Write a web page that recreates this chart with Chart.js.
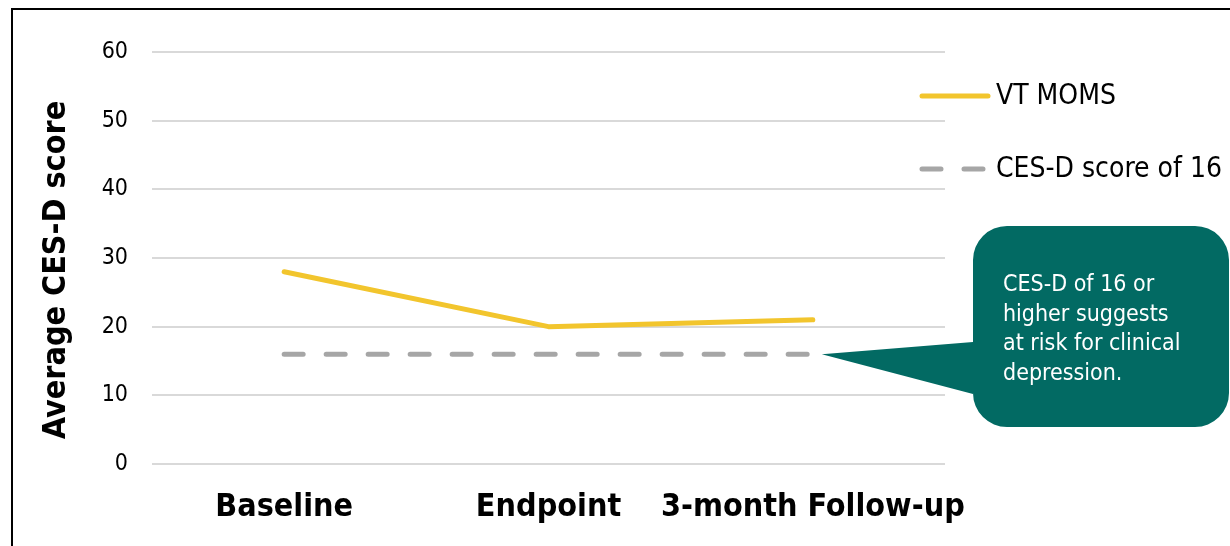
<!DOCTYPE html>
<html>
<head>
<meta charset="utf-8">
<script src="https://cdn.jsdelivr.net/npm/chart.js@4.4.1/dist/chart.umd.min.js"></script>
<style>
  html, body { margin: 0; padding: 0; background: #fff; }
  #wrap { position: relative; width: 1230px; height: 546px; overflow: hidden; }
  #frame { position: absolute; left: 11px; top: 8px; width: 1300px; height: 600px;
           border-top: 2px solid #000; border-left: 2px solid #000; box-sizing: border-box; }
  canvas { position: absolute; left: 0; top: 0; }
</style>
</head>
<body>
<div id="wrap">
  <div id="frame"></div>
  <canvas id="chart" width="1230" height="546"></canvas>
</div>
<script>
// Time points and scores
const timepoints = ['Baseline', 'Endpoint', '3-month Follow-up'];
const vtMomsScores = [28, 20, 21];
const thresholdScores = [16, 16, 16];
const seriesLabels = ['VT MOMS', 'CES-D score of 16'];
const yTicks = [0, 10, 20, 30, 40, 50, 60];
const yTitle = 'Average CES-D score';
const calloutLines = ['CES-D of 16 or', 'higher suggests', 'at risk for clinical', 'depression.'];

const FONT = '"DejaVu Sans Condensed", "DejaVu Sans", sans-serif';
const YELLOW = '#F2C52D';
const GRAY = '#A6A6A6';
const TEAL = '#026A63';

// Draws the rotated y title, the legend on the right and the speech-bubble note
const decorations = {
  id: 'decorations',
  afterDraw(chart) {
    const ctx = chart.ctx;
    const y = chart.scales.y;
    const x = chart.scales.x;

    // y-axis title
    ctx.save();
    ctx.translate(57, 270);
    ctx.rotate(-Math.PI / 2);
    ctx.font = 'bold 32px ' + FONT;
    ctx.fillStyle = '#000';
    ctx.textAlign = 'center';
    ctx.textBaseline = 'middle';
    ctx.fillText(yTitle, 0, 0);
    ctx.restore();

    // legend
    const ds = chart.data.datasets;
    const legendRows = [96, 169];
    ds.forEach((d, i) => {
      const ly = legendRows[i];
      ctx.save();
      ctx.strokeStyle = d.borderColor;
      ctx.lineWidth = d.borderWidth;
      ctx.lineCap = 'round';
      ctx.setLineDash(d.borderDash || []);
      ctx.beginPath();
      ctx.moveTo(922, ly);
      ctx.lineTo(988, ly);
      ctx.stroke();
      ctx.restore();
      ctx.save();
      ctx.font = '28px ' + FONT;
      ctx.fillStyle = '#000';
      ctx.textAlign = 'left';
      ctx.textBaseline = 'middle';
      ctx.fillText(d.label, 996, ly + 1);
      ctx.restore();
    });

    // speech bubble pointing at the end of the threshold line
    const tipX = x.getPixelForValue(2) + 9;
    const tipY = y.getPixelForValue(thresholdScores[2]);
    const bx = 973, by = 226, bw = 256, bh = 201, r = 34;
    ctx.save();
    ctx.fillStyle = TEAL;
    ctx.beginPath();
    ctx.moveTo(bx + r, by);
    ctx.lineTo(bx + bw - r, by);
    ctx.arcTo(bx + bw, by, bx + bw, by + r, r);
    ctx.lineTo(bx + bw, by + bh - r);
    ctx.arcTo(bx + bw, by + bh, bx + bw - r, by + bh, r);
    ctx.lineTo(bx + r, by + bh);
    ctx.arcTo(bx, by + bh, bx, by + bh - r, r);
    ctx.lineTo(bx, 394);
    ctx.lineTo(tipX, tipY);
    ctx.lineTo(bx, 342);
    ctx.lineTo(bx, by + r);
    ctx.arcTo(bx, by, bx + r, by, r);
    ctx.closePath();
    ctx.fill();
    ctx.font = '23px ' + FONT;
    ctx.fillStyle = '#fff';
    ctx.textAlign = 'left';
    ctx.textBaseline = 'middle';
    calloutLines.forEach((t, i) => ctx.fillText(t, 1003, 285 + i * 29.7));
    ctx.restore();
  }
};

new Chart(document.getElementById('chart'), {
  type: 'line',
  data: {
    labels: timepoints,
    datasets: [
      {
        label: seriesLabels[0],
        data: vtMomsScores,
        borderColor: YELLOW,
        backgroundColor: YELLOW,
        borderWidth: 5,
        borderCapStyle: 'round',
        borderJoinStyle: 'round',
        pointRadius: 0,
        tension: 0
      },
      {
        label: seriesLabels[1],
        data: thresholdScores,
        borderColor: GRAY,
        backgroundColor: GRAY,
        borderWidth: 5,
        borderDash: [19, 23],
        borderCapStyle: 'round',
        pointRadius: 0,
        tension: 0
      }
    ]
  },
  options: {
    responsive: false,
    animation: false,
    devicePixelRatio: 1,
    layout: { padding: { left: 0, right: 285, top: 52, bottom: 0 } },
    plugins: {
      legend: { display: false },
      tooltip: { enabled: false },
      title: { display: false }
    },
    scales: {
      x: {
        type: 'category',
        offset: true,
        grid: { display: false, drawTicks: false },
        border: { display: false },
        ticks: {
          color: '#000',
          font: { family: FONT, size: 32, weight: 'bold' },
          padding: 24,
          maxRotation: 0,
          autoSkip: false
        },
        afterFit(scale) { scale.height = 82; }
      },
      y: {
        min: 0,
        max: 60,
        afterBuildTicks(scale) { scale.ticks = yTicks.map(v => ({ value: v })); },
        grid: { color: '#D9D9D9', lineWidth: 2, drawTicks: false },
        border: { display: false },
        ticks: {
          color: '#000',
          font: { family: FONT, size: 23 },
          padding: 24
        },
        afterFit(scale) { scale.width = 152; }
      }
    }
  },
  plugins: [decorations]
});
</script>
</body>
</html>
